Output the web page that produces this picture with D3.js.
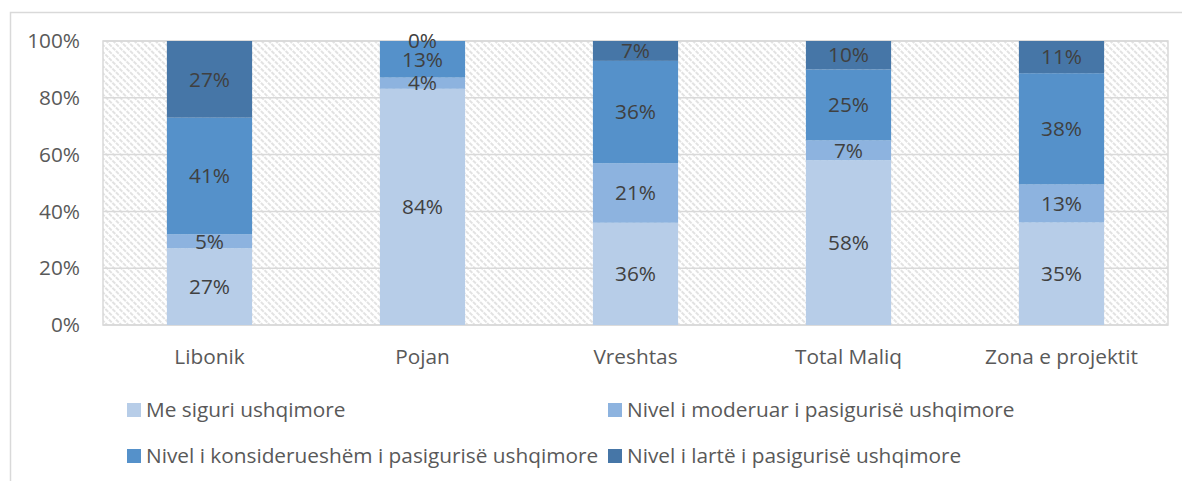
<!DOCTYPE html>
<html>
<head>
<meta charset="utf-8">
<script src="https://cdn.jsdelivr.net/npm/d3@7"></script>
<style>
  body { margin: 0; background: #fff; }
  svg { display: block; font-family: "Open Sans", sans-serif; }
</style>
</head>
<body>
<div id="chart"></div>
<script>
// data (the stack is normalised to 100%)
var categories = ["Libonik", "Pojan", "Vreshtas", "Total Maliq", "Zona e projektit"];
var seriesNames = [
  "Me siguri ushqimore",
  "Nivel i moderuar i pasigurisë ushqimore",
  "Nivel i konsiderueshëm i pasigurisë ushqimore",
  "Nivel i lartë i pasigurisë ushqimore"
];
var secure = [27, 84, 36, 58, 35];
var moderate = [5, 4, 21, 7, 13];
var considerable = [41, 13, 36, 25, 38];
var high = [27, 0, 7, 10, 11];
var yTicks = [0, 20, 40, 60, 80, 100];

var colors = ["#b7cde8", "#8db3df", "#5591ca", "#4676a7"];
var FS = 20.8;

var width = 1182, height = 481;
var plot = { left: 103, right: 1168, top: 41, bottom: 325 };

var svg = d3.select("#chart").append("svg")
  .attr("width", width)
  .attr("height", height);

// hatch for the plot background
var defs = svg.append("defs");
var pat = defs.append("pattern")
  .attr("id", "hatch")
  .attr("patternUnits", "userSpaceOnUse")
  .attr("width", 5).attr("height", 5)
  .attr("patternTransform", "rotate(-45)");
pat.append("line")
  .attr("x1", 1).attr("y1", 0).attr("x2", 1).attr("y2", 5)
  .attr("stroke", "#cfcfcf")
  .attr("stroke-width", 1.2)
  .attr("stroke-dasharray", "2,1");

// chart frame (only top and left are inside the picture)
svg.append("path")
  .attr("d", "M10.5," + height + " V12.5 H" + width)
  .attr("fill", "none")
  .attr("stroke", "#d9d9d9")
  .attr("stroke-width", 1.5);

var x = d3.scaleBand()
  .domain(categories)
  .range([plot.left, plot.right])
  .paddingInner(0.6)
  .paddingOuter(0.3);

var y = d3.scaleLinear()
  .domain([0, 100])
  .range([plot.bottom, plot.top]);

svg.append("rect")
  .attr("x", plot.left).attr("y", plot.top)
  .attr("width", plot.right - plot.left)
  .attr("height", plot.bottom - plot.top)
  .attr("fill", "url(#hatch)");

// gridlines
svg.append("g")
  .selectAll("line")
  .data(yTicks)
  .enter().append("line")
  .attr("x1", plot.left).attr("x2", plot.right)
  .attr("y1", function (d) { return y(d); })
  .attr("y2", function (d) { return y(d); })
  .attr("stroke", "#d9d9d9")
  .attr("stroke-width", 1.5);

svg.append("rect")
  .attr("x", plot.left).attr("y", plot.top)
  .attr("width", plot.right - plot.left)
  .attr("height", plot.bottom - plot.top)
  .attr("fill", "none")
  .attr("stroke", "#d9d9d9")
  .attr("stroke-width", 1.5);

// build rows for the stack
var rows = categories.map(function (c, i) {
  var vals = [secure[i], moderate[i], considerable[i], high[i]];
  var total = d3.sum(vals);
  var r = { cat: c, raw: vals };
  vals.forEach(function (v, k) { r["s" + k] = v / total * 100; });
  return r;
});

var stack = d3.stack().keys(["s0", "s1", "s2", "s3"]);
var layers = stack(rows);

var layer = svg.append("g")
  .selectAll("g")
  .data(layers)
  .enter().append("g")
  .attr("fill", function (d, i) { return colors[i]; });

layer.selectAll("rect")
  .data(function (d) { return d; })
  .enter().append("rect")
  .attr("x", function (d) { return x(d.data.cat); })
  .attr("width", x.bandwidth())
  .attr("y", function (d) { return y(d[1]); })
  .attr("height", function (d) { return y(d[0]) - y(d[1]); });

// value labels
layers.forEach(function (ly, k) {
  svg.append("g")
    .selectAll("text")
    .data(ly)
    .enter().append("text")
    .attr("x", function (d) { return x(d.data.cat) + x.bandwidth() / 2; })
    .attr("y", function (d) { return (y(d[0]) + y(d[1])) / 2; })
    .attr("dy", "0.35em")
    .attr("text-anchor", "middle")
    .attr("font-size", FS)
    .attr("fill", "#404040")
    .text(function (d) { return d.data.raw[k] + "%"; });
});

// y axis labels
svg.append("g")
  .selectAll("text")
  .data(yTicks)
  .enter().append("text")
  .attr("x", 80)
  .attr("y", function (d) { return y(d); })
  .attr("dy", "0.35em")
  .attr("text-anchor", "end")
  .attr("font-size", FS)
  .attr("fill", "#595959")
  .text(function (d) { return d + "%"; });

// category labels
svg.append("g")
  .selectAll("text")
  .data(categories)
  .enter().append("text")
  .attr("x", function (d) { return x(d) + x.bandwidth() / 2; })
  .attr("y", 357)
  .attr("dy", "0.35em")
  .attr("text-anchor", "middle")
  .attr("font-size", FS)
  .attr("fill", "#595959")
  .text(function (d) { return d; });

// legend, two columns
var legendPos = [[127, 410], [608, 410], [127, 456], [608, 456]];
var legend = svg.append("g")
  .selectAll("g")
  .data(seriesNames)
  .enter().append("g")
  .attr("transform", function (d, i) {
    return "translate(" + legendPos[i][0] + "," + legendPos[i][1] + ")";
  });
legend.append("rect")
  .attr("x", 0).attr("y", -7)
  .attr("width", 14).attr("height", 14)
  .attr("fill", function (d, i) { return colors[i]; });
legend.append("text")
  .attr("x", 19)
  .attr("dy", "0.35em")
  .attr("font-size", FS)
  .attr("fill", "#595959")
  .text(function (d) { return d; });
</script>
</body>
</html>
